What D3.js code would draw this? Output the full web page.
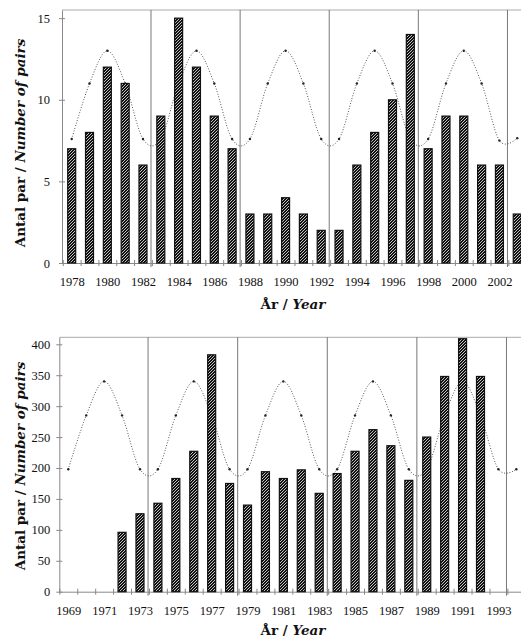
<!DOCTYPE html>
<html>
<head>
<meta charset="utf-8">
<script src="https://cdn.jsdelivr.net/npm/d3@7"></script>
<style>
  body { margin: 0; background: #fff; }
  svg { display: block; }
  .tick text { font-family: "Liberation Serif", serif; font-size: 12.5px; fill: #111; }
  .title { font-family: "DejaVu Serif", serif; font-size: 13.5px; font-weight: bold; fill: #111; }
</style>
</head>
<body>
<div id="chart"></div>
<script>
// --- upper panel (1978-2003)
var yearsA  = [1978,1979,1980,1981,1982,1983,1984,1985,1986,1987,1988,1989,1990,
               1991,1992,1993,1994,1995,1996,1997,1998,1999,2000,2001,2002,2003];
var pairsA  = [7,8,12,11,6,9,15,12,9,7,3,3,4,3,2,2,6,8,10,14,7,9,9,6,6,3];
var cycleA  = [7.6,11,13,11,7.6, 7.6,11,13,11,7.6, 7.6,11,13,11,7.6,
               7.6,11,13,11,7.6, 7.6,11,13,11,7.5, 7.65];
var labelsA = [1978,1980,1982,1984,1986,1988,1990,1992,1994,1996,1998,2000,2002];
var minimaA = [1982.45,1987.45,1992.45,1997.45,2002.45];
var yTicksA = [0,5,10,15];

// --- lower panel (1969-1994)
var yearsB  = [1972,1973,1974,1975,1976,1977,1978,1979,1980,1981,1982,
               1983,1984,1985,1986,1987,1988,1989,1990,1991,1992];
var pairsB  = [96,126,143,183,227,383,175,140,194,183,197,159,191,227,262,236,180,250,348,409,348];
var cycleYearsB = [1969,1970,1971,1972,1973,1974,1975,1976,1977,1978,1979,1980,1981,
                   1982,1983,1984,1985,1986,1987,1988,1989,1990,1991,1992,1993,1994];
var cycleB  = [198,285,340,285,198, 198,285,340,285,198, 198,285,340,285,198,
               198,285,340,285,198, 198,285,340,285,198, 198];
var labelsB = [1969,1971,1973,1975,1977,1979,1981,1983,1985,1987,1989,1991,1993];
var minimaB = [1973.45,1978.45,1983.45,1988.45,1993.45];
var yTicksB = [0,50,100,150,200,250,300,350,400];

var W = 521, H = 638;

var svg = d3.select('#chart').append('svg')
    .attr('width', W)
    .attr('height', H);

// black bars with white diagonal stripes
var hatch = svg.append('defs').append('pattern')
    .attr('id', 'hatch')
    .attr('patternUnits', 'userSpaceOnUse')
    .attr('width', 3)
    .attr('height', 3);
hatch.append('rect').attr('width', 3).attr('height', 3).attr('fill', '#111');
hatch.append('path')
    .attr('d', 'M-1,1 L1,-1 M0,3 L3,0 M2,4 L4,2')
    .attr('stroke', '#fff')
    .attr('stroke-width', 0.75);

function panel(p) {
    var g = svg.append('g');
    var x = d3.scaleLinear().domain(p.xDomain).range([p.left, W]);
    var y = d3.scaleLinear().domain([0, p.yMax]).range([p.bottom, p.top]);

    // frame top line
    g.append('line')
        .attr('x1', p.left).attr('x2', W)
        .attr('y1', p.top).attr('y2', p.top)
        .attr('stroke', '#aaa');

    // cycle boundaries
    g.selectAll('.cyc')
        .data(p.minima)
        .enter()
        .append('line')
        .attr('x1', d => x(d)).attr('x2', d => x(d))
        .attr('y1', p.top).attr('y2', p.bottom + 4)
        .attr('stroke', '#555')
        .attr('stroke-width', 0.8);

    // y axis
    g.append('g')
        .attr('transform', 'translate(' + p.left + ',0)')
        .call(d3.axisLeft(y).tickValues(p.yTicks).tickSize(3).tickSizeOuter(0).tickPadding(p.yPad))
        .call(a => a.select('.domain').attr('stroke', '#888'))
        .call(a => a.selectAll('.tick line').attr('x1', 3).attr('stroke', '#888'));

    // x axis: marks between years
    var between = p.cycleYears.map(d => d + 0.5).filter(d => d < p.xDomain[1]);
    between.unshift(p.cycleYears[0] - 0.5);
    g.append('g')
        .attr('transform', 'translate(0,' + p.bottom + ')')
        .call(d3.axisBottom(x).tickValues(between).tickSize(3).tickSizeOuter(0).tickFormat(''))
        .call(a => a.select('.domain').attr('stroke', '#888'))
        .call(a => a.selectAll('.tick line').attr('y1', -3).attr('stroke', '#888'));

    // x axis: year labels
    g.append('g')
        .attr('transform', 'translate(0,' + p.bottom + ')')
        .call(d3.axisBottom(x).tickValues(p.labels).tickSize(0).tickPadding(p.xPad).tickFormat(d3.format('d')))
        .call(a => a.select('.domain').remove());

    // cycle curve
    var pts = p.cycleYears.map((d, i) => ({ year: d, v: p.cycle[i] }));
    var line = d3.line()
        .x(d => x(d.year))
        .y(d => y(d.v))
        .curve(d3.curveCardinal.tension(0));
    g.append('path')
        .datum(pts)
        .attr('d', line)
        .attr('fill', 'none')
        .attr('stroke', '#333')
        .attr('stroke-width', 0.9)
        .attr('stroke-dasharray', '0.9,1.8');
    g.selectAll('.dot')
        .data(pts)
        .enter()
        .append('circle')
        .attr('cx', d => x(d.year))
        .attr('cy', d => y(d.v))
        .attr('r', 1.2)
        .attr('fill', '#222');

    // bars
    g.selectAll('.bar')
        .data(p.years.map((d, i) => ({ year: d, v: p.pairs[i] })))
        .enter()
        .append('rect')
        .attr('x', d => x(d.year) - 4)
        .attr('width', 8)
        .attr('y', d => y(d.v))
        .attr('height', d => p.bottom - y(d.v))
        .attr('fill', 'url(#hatch)')
        .attr('stroke', '#111')
        .attr('stroke-width', 1.2);

    // titles
    var yt = g.append('text')
        .attr('class', 'title')
        .attr('text-anchor', 'middle')
        .attr('transform', 'translate(25,' + p.yTitleY + ') rotate(-90)');
    yt.append('tspan').text('Antal par / ');
    yt.append('tspan').attr('font-style', 'italic').text('Number of pairs');

    var xt = g.append('text')
        .attr('class', 'title')
        .attr('text-anchor', 'middle')
        .attr('x', 293)
        .attr('y', p.xTitleY);
    xt.append('tspan').text('År / ');
    xt.append('tspan').attr('font-style', 'italic').text('Year');
}

panel({
    left: 62, top: 10, bottom: 263,
    xDomain: [1977.456, 2003.21], yMax: 15.5,
    years: yearsA, pairs: pairsA,
    cycleYears: yearsA, cycle: cycleA,
    labels: labelsA, minima: minimaA, yTicks: yTicksA,
    yPad: 9, xPad: 14, yTitleY: 143, xTitleY: 309
});

panel({
    left: 59.3, top: 337.3, bottom: 591.7,
    xDomain: [1968.498, 1994.26], yMax: 411.3,
    years: yearsB, pairs: pairsB,
    cycleYears: cycleYearsB, cycle: cycleB,
    labels: labelsB, minima: minimaB, yTicks: yTicksB,
    yPad: 6, xPad: 14, yTitleY: 466, xTitleY: 635
});
</script>
</body>
</html>
